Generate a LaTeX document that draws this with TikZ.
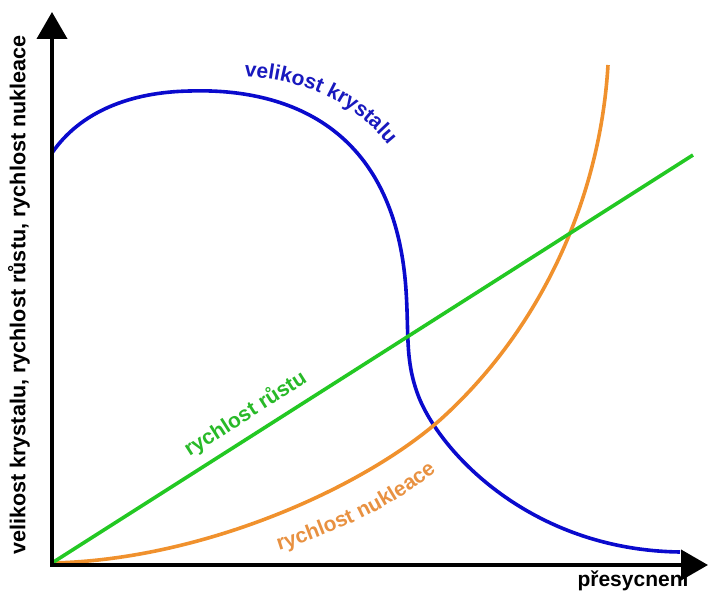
\documentclass[tikz,border=0pt]{standalone}
\usepackage{fontspec}
\setmainfont{Liberation Sans}
\usetikzlibrary{arrows.meta,decorations.text}
\definecolor{cblue}{RGB}{10,10,205}
\definecolor{cgreen}{RGB}{35,200,35}
\definecolor{corange}{RGB}{240,145,45}
\definecolor{tblue}{RGB}{25,25,190}
\definecolor{tgreen}{RGB}{40,185,40}
\definecolor{torange}{RGB}{232,145,65}
\tikzset{
  axisline/.style={line width=4pt,-{Triangle[width=30pt,length=27pt]}},
  curveline/.style={line width=3.6pt},
  lbl/.style={font=\bfseries\fontsize{21}{24}\selectfont}
}
\begin{document}
\begin{tikzpicture}[x=1pt,y=-1pt]
\useasboundingbox (0,0) rectangle (710,593);
\coordinate (O) at (52,565);
\coordinate (Y) at (52,12);
\coordinate (X) at (708,565);
% blue curve
\draw[curveline,cblue] (52,153) .. controls (80,112) and (130,92) .. (190,91)
  .. controls (285,88) and (395,125) .. (406,290)
  .. controls (409,335) and (405,360) .. (418,395)
  .. controls (439,451) and (530,550) .. (680,552);
% orange curve
\draw[curveline,corange] (52,563) .. controls (200,560) and (360,490) .. (440,420)
  .. controls (540,330) and (600,200) .. (608,65);
% green line
\coordinate (G1) at (52,563);
\coordinate (G2) at (693,155);
\draw[curveline,cgreen] (G1) -- (G2)
  node[pos=0.32,sloped,above=6pt,lbl,text=tgreen]{rychlost růstu};
% axes
\draw[axisline] (O) -- (Y);
\draw[axisline] ([xshift=-2pt]O) -- (X);
% labels
\node[font=\bfseries\fontsize{21.6}{24}\selectfont,rotate=90] (ylab) at (19,295) {velikost krystalu, rychlost růstu, rychlost nukleace};
\node[lbl,anchor=base] (xlab) at (633,586) {přesycnení};
\path[decorate,decoration={text along path,text align=center,
  text={|\bfseries\fontsize{21}{24}\selectfont\color{tblue}|velikost krystalu}}]
  (238,76) .. controls (300,78) and (355,100) .. (392,150);
\path[decorate,decoration={text along path,text align=center,
  text={|\bfseries\fontsize{21}{24}\selectfont\color{torange}|rychlost nukleace}}]
  (272,553) .. controls (330,535) and (395,508) .. (442,466);
\end{tikzpicture}
\end{document}
